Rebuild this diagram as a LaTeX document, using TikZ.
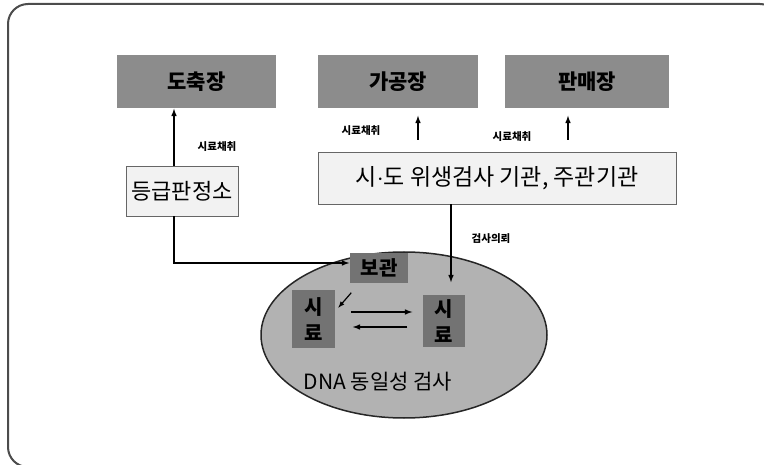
\documentclass[tikz,border=0pt]{standalone}
\usepackage{fontspec}
\setmainfont{Noto Sans CJK KR}
\usepackage{tikz}

\begin{document}
\begin{tikzpicture}[x=1pt, y=-1pt, line width=1.5pt,
    site/.style={fill=black!45, inner sep=0pt, minimum height=53pt, font=\bfseries\fontsize{21}{21}\selectfont},
    office/.style={draw=black!60, line width=0.6pt, fill=black!5, inner sep=0pt},
    sample/.style={fill=black!55, inner sep=0pt, align=center, font=\bfseries\fontsize{20}{26}\selectfont},
    note/.style={font=\bfseries\fontsize{10.5}{10.5}\selectfont},
    arr/.style={-latex}]
    % fix the page and draw the outer frame
    \useasboundingbox (0,0) rectangle (764,465);
    \draw[line width=2pt, black!70, rounded corners=20pt] (8,4) rectangle (780,467);

    % draw top boxes
    \node[site, minimum width=159pt] (slaughter) at (196.5,81.5) {도축장};
    \node[site, minimum width=160pt] (plant) at (398,81.5) {가공장};
    \node[site, minimum width=164pt] (shop) at (587,81.5) {판매장};

    % draw offices
    \node[office, minimum width=112pt, minimum height=50pt, font=\fontsize{22}{22}\selectfont] (grading) at (182,191) {등급판정소};
    \node[office, minimum width=358pt, minimum height=52pt, font=\fontsize{23}{23}\selectfont] (agency) at (497,178) {시$\cdot$도 위생검사 기관, 주관기관};

    % draw ellipse with samples
    \draw[fill=black!30, draw=black!85] (404,335) ellipse [x radius=143, y radius=83];
    \node[sample, minimum width=58pt, minimum height=30pt] (store) at (379,268) {보관};
    \node[sample, minimum width=43pt, minimum height=58pt] (left) at (313.5,319) {시\\료};
    \node[sample, minimum width=42pt, minimum height=52pt] (right) at (444,321) {시\\료};
    \node[font=\fontsize{21}{21}\selectfont] (dna) at (378,382) {DNA 동일성 검사};

    % arrow columns
    \coordinate (gx) at (174,0);
    \coordinate (px) at (418,0);
    \coordinate (sx) at (568,0);
    \coordinate (rx) at (451,0);

    % draw sampling arrows
    \draw[arr] (grading.north -| gx) -- (slaughter.south -| gx);
    \draw[arr, shorten <=12pt, shorten >=7pt] (agency.north -| px) -- (plant.south -| px);
    \draw[arr, shorten <=12pt, shorten >=7pt] (agency.north -| sx) -- (shop.south -| sx);

    % draw request lines
    \draw[arr] (grading.south -| gx) |- ([yshift=5pt]store.west);
    \draw[arr, shorten >=12pt] (agency.south -| rx) -- (right.north -| rx);

    % draw exchange arrows
    \draw[arr, line width=1.2pt] ([shift={(2,9)}]store.south west) -- +(-13,15);
    \draw[arr, shorten <=15pt, shorten >=10pt] ([yshift=7pt]left.east) -- ([yshift=9pt]right.west);
    \draw[arr, shorten <=15pt, shorten >=17pt] ([yshift=-6pt]right.west) -- ([yshift=-8pt]left.east);

    % draw labels
    \node[note] (n1) at (217,147) {시료채취};
    \node[note] (n2) at (361,131) {시료채취};
    \node[note] (n3) at (512,137) {시료채취};
    \node[note] (n4) at (491,239) {검사의뢰};
\end{tikzpicture}
\end{document}
